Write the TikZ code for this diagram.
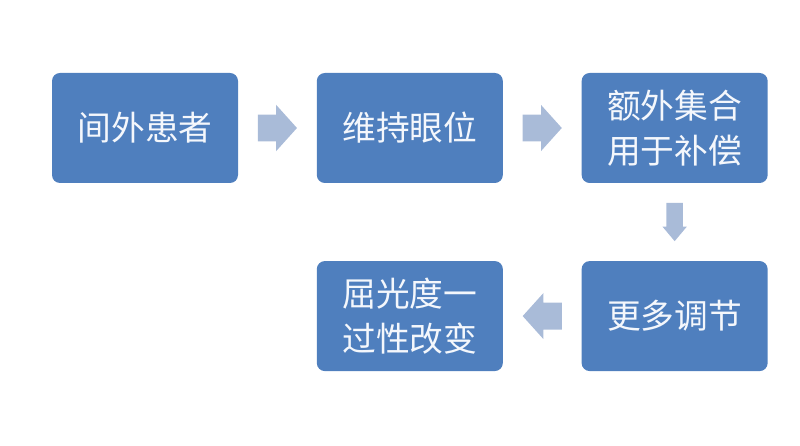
\documentclass[tikz,border=0pt]{standalone}
\usepackage{fontspec}
\newfontfamily\cjk{Noto Sans CJK SC}
\usepackage{xcolor}
\usetikzlibrary{positioning,shapes.arrows}
\definecolor{boxblue}{HTML}{4F7FBE}
\definecolor{arrowgray}{HTML}{A9BBD8}
\definecolor{textwhite}{HTML}{F4F7FC}
\begin{document}
\begin{tikzpicture}[node distance=4.8mm,every node/.style={font=\cjk\fontsize{24}{32}\selectfont},box/.style={fill=boxblue,rounded corners=2mm,text=textwhite,align=center,minimum width=46.5mm,minimum height=27.5mm,inner sep=1mm},harrow/.style={single arrow,fill=arrowgray,inner sep=0pt,inner ysep=3.3mm,minimum height=9.8mm,single arrow head extend=2.4mm,single arrow tip angle=96},varrow/.style={single arrow,shape border rotate=270,fill=arrowgray,inner sep=0pt,inner xsep=2mm,minimum width=6mm,minimum height=9.6mm,single arrow head extend=1mm,single arrow tip angle=80}]
\useasboundingbox (0,0) rectangle (20,11.15);
\node[box] (outer) at (3.625,7.95) {间外患者};
\node[harrow,right=of outer] (a1) {};
\node[box,right=of a1] (hold) {维持眼位};
\node[harrow,right=of hold] (a2) {};
\node[box,right=of a2] (conv) {额外集合\\用于补偿};
\node[varrow,below=of conv] (a3) {};
\node[box,below=of a3] (accom) {更多调节};
\node[harrow,shape border rotate=180,left=of accom] (a4) {};
\node[box,left=of a4] (refr) {屈光度一\\过性改变};
\end{tikzpicture}
\end{document}
